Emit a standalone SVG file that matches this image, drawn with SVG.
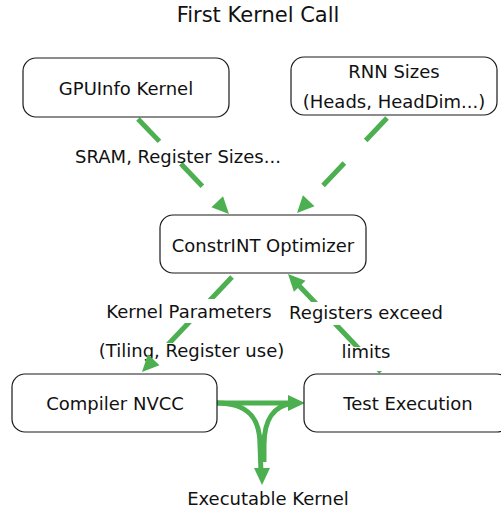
<svg xmlns="http://www.w3.org/2000/svg" xmlns:xlink="http://www.w3.org/1999/xlink" width="501" height="513" viewBox="0 0 501 513">
<style>
.box{fill:#fff;stroke:#1a1a1a;stroke-width:1.2}
.t{font-family:"DejaVu Sans",Verdana,sans-serif;font-size:18px;fill:#111;text-anchor:middle}
.title{font-size:21px}
.edge{fill:none;stroke:#4caf50;stroke-width:5}
.dash{stroke-dasharray:31 31}
.bg{fill:#fff}
.ah{fill:#4caf50}
</style>
<defs>
<path id="ah" d="M0,0 L-17,-8 L-17,8 Z"/>
</defs>
<rect width="501" height="513" fill="#fff"/>
<text class="t title" x="258" y="22">First Kernel Call</text>

<g id="connectors">
<path class="edge dash" d="M138,119 L220.7,205.3"/>
<path class="edge dash" d="M387,118 L305.3,204.3"/>
<path class="edge" d="M232,277 L150.3,363.3"/>
<path class="edge" d="M381,372 L296.3,282.7"/>
<path class="edge" d="M217,403 L293,403"/>
<path class="edge" d="M217,403 C248,403 260,418 260,445 L261,473"/>
<path class="edge" d="M264,462 L264,445 C264,420 274,405 293,403.5"/>
<g id="edge-labels">
<text class="t" x="178" y="163">SRAM, Register Sizes...</text>
<rect class="bg" x="103" y="299" width="172" height="24"/>
<text class="t" x="189" y="318">Kernel Parameters</text>
<rect class="bg" x="95" y="343" width="193" height="20"/>
<text class="t" x="191.5" y="357">(Tiling, Register use)</text>
<rect class="bg" x="286" y="302" width="161" height="23"/>
<text class="t" x="366" y="319">Registers exceed</text>
<rect class="bg" x="340" y="347" width="53" height="24"/>
<text class="t" x="366" y="358">limits</text>
<text class="t" x="268" y="505">Executable Kernel</text>
</g>
<use class="ah" xlink:href="#ah" transform="translate(229,214) rotate(46.2)"/>
<use class="ah" xlink:href="#ah" transform="translate(297,213) rotate(133.5)"/>
<use class="ah" xlink:href="#ah" transform="translate(142,372) rotate(133.5)"/>
<use class="ah" xlink:href="#ah" transform="translate(288,274) rotate(-133.5)"/>
<use class="ah" xlink:href="#ah" transform="translate(305,403) rotate(0)"/>
<use class="ah" xlink:href="#ah" transform="translate(262,485) rotate(90)"/>
</g>

<g id="gpuinfo">
<rect class="box" x="23" y="58" width="206" height="59" rx="13"/>
<text class="t" x="126" y="95">GPUInfo Kernel</text>
</g>
<g id="rnn-sizes">
<rect class="box" x="291" y="57" width="206" height="58" rx="13"/>
<text class="t" x="394" y="78">RNN Sizes</text>
<text class="t" x="394" y="108">(Heads, HeadDim...)</text>
</g>
<g id="constrint">
<rect class="box" x="160" y="215" width="206" height="58" rx="13"/>
<text class="t" x="263" y="252">ConstrINT Optimizer</text>
</g>
<g id="compiler">
<rect class="box" x="12" y="374" width="205" height="58" rx="13"/>
<text class="t" x="115" y="410">Compiler NVCC</text>
</g>
<g id="test-execution">
<rect class="box" x="304" y="374" width="206" height="58" rx="13"/>
<text class="t" x="408" y="410">Test Execution</text>
</g>
</svg>
